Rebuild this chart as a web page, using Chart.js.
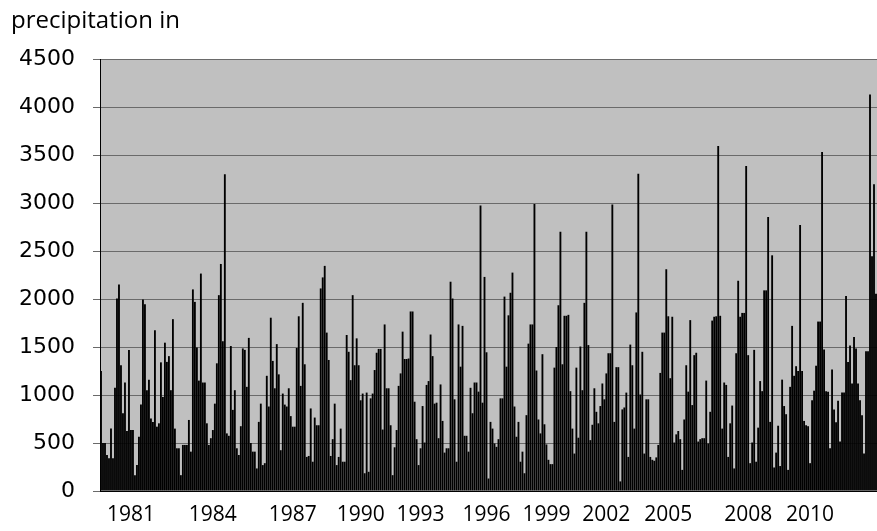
<!DOCTYPE html>
<html>
<head>
<meta charset="utf-8">
<script src="https://cdn.jsdelivr.net/npm/chart.js@4/dist/chart.umd.min.js"></script>
<style>
  html, body { margin: 0; padding: 0; background: #fff; }
  #wrap { width: 877px; height: 531px; }
</style>
</head>
<body>
<div id="wrap"><canvas id="chart" width="877" height="531"></canvas></div>
<script>
// Precipitation values left to right, in five blocks
const values1 = [
  1250, 500, 500, 375, 340, 650, 340, 1075, 2005, 2150,
  1310, 810, 1130, 625, 1470, 635, 635, 165, 270, 565,
  900, 1995, 1945, 1050, 1160, 755, 720, 1675, 670, 705,
  1340, 980, 1545, 1345, 1405, 1050, 1790, 650, 445, 445,
  165, 480, 480, 480, 740, 410, 2100, 1970, 1495, 1150,
  2265, 1130, 1130, 705, 480, 550, 635, 910, 1330, 2040,
  2365, 1560, 3300, 600, 575, 1510, 845, 1050, 445, 375,
  675, 1485, 1470, 1085, 1595, 500, 410, 410
];
const values2 = [
  235, 720, 910, 270, 290, 1200, 880, 1805, 1355, 1070,
  1530, 1215, 425, 1015, 900, 880, 1070, 780, 670, 670,
  1490, 1820, 1095, 1960, 1320, 355, 365, 860, 305, 765,
  685, 685, 2110, 2225, 2345, 1650, 1365, 365, 540, 910,
  270, 355, 650, 305, 305, 1625, 1450, 1155, 2040, 1310,
  1590, 1310, 945, 1015, 185, 1025, 200, 965, 1015, 1260,
  1440, 1480, 1480, 640, 1735, 1070, 1070, 685, 165, 455,
  635, 1095, 1225, 1660, 1375, 1375, 1380, 1870
];
const values3 = [
  1870, 930, 540, 270, 445, 885, 505, 1105, 1145, 1630,
  1405, 910, 920, 550, 1110, 730, 400, 445, 445, 2180,
  2005, 955, 305, 1735, 1295, 1720, 575, 575, 410, 1075,
  810, 1130, 1130, 1035, 2975, 920, 2230, 1445, 130, 720,
  650, 495, 460, 540, 965, 965, 2025, 1295, 1830, 2065,
  2275, 880, 565, 720, 305, 410, 185, 790, 1535, 1735,
  1735, 2990, 1255, 745, 600, 1425, 695, 485, 325, 280,
  280, 1285, 1500, 1935, 2700, 1320, 1825, 1825
];
const values4 = [
  1835, 1040, 650, 390, 1285, 555, 1505, 1050, 1960, 2700,
  1520, 530, 690, 1070, 825, 705, 885, 1120, 955, 1225,
  1435, 1435, 2985, 720, 1290, 1290, 100, 850, 870, 1025,
  355, 1525, 1310, 650, 1860, 3305, 1005, 1450, 390, 955,
  955, 355, 325, 315, 350, 480, 1230, 1650, 1650, 2310,
  1820, 1175, 1815, 505, 590, 625, 540, 220, 745, 1310,
  1035, 1780, 895, 1415, 1440, 515, 540, 550, 550, 1150,
  495, 825, 1775, 1815, 1820, 3595, 1825, 650
];
const values5 = [
  1130, 1105, 355, 705, 890, 235, 1435, 2190, 1815, 1855,
  1855, 3385, 1415, 290, 505, 1470, 305, 660, 1145, 1040,
  2090, 2090, 2855, 720, 2455, 245, 400, 680, 260, 1160,
  885, 800, 220, 1085, 1720, 1200, 1300, 1250, 2770, 1250,
  730, 685, 675, 290, 945, 1045, 1305, 1765, 1765, 3530,
  1475, 1040, 1035, 445, 1265, 850, 715, 940, 515, 1025,
  1025, 2030, 1345, 1515, 1120, 1605, 1485, 1120, 945, 790,
  390, 1455, 1455, 4130, 2445, 3195, 2055
];
const precipitation = [...values1, ...values2, ...values3, ...values4, ...values5];

// Year labels and the bar they sit under
const tickYears = ['1981', '1984', '1987', '1990', '1993', '1996', '1999', '2002', '2005', '2008', '2010'];
const tickIndex = [15, 56, 96, 130, 160, 193, 223, 253, 284, 324, 355];

const yTicks = [0, 500, 1000, 1500, 2000, 2500, 3000, 3500, 4000, 4500];

const labels = precipitation.map((_, i) => {
  const k = tickIndex.indexOf(i);
  return k >= 0 ? tickYears[k] : '';
});

// Gray plot area
const plotBackground = {
  id: 'plotBackground',
  beforeDraw(chart) {
    const { ctx, chartArea: a } = chart;
    ctx.save();
    ctx.fillStyle = '#c0c0c0';
    ctx.fillRect(a.left, a.top, a.right - a.left, a.bottom - a.top);
    ctx.restore();
  }
};

// Axis title in the top left corner
const axisTitle = {
  id: 'axisTitle',
  afterDraw(chart) {
    const ctx = chart.ctx;
    ctx.save();
    ctx.fillStyle = '#000';
    ctx.font = '24px "Open Sans"';
    ctx.textBaseline = 'alphabetic';
    ctx.fillText('precipitation in', 11, 28);
    ctx.restore();
  }
};

new Chart(document.getElementById('chart'), {
  type: 'bar',
  data: {
    labels,
    datasets: [{
      data: precipitation,
      backgroundColor: '#000',
      borderWidth: 0,
      barPercentage: 0.93,
      categoryPercentage: 1
    }]
  },
  options: {
    responsive: false,
    animation: false,
    layout: { padding: { top: 59, right: 0, left: 0, bottom: 0 } },
    plugins: {
      legend: { display: false },
      tooltip: { enabled: false }
    },
    scales: {
      x: {
        grid: { display: false, drawTicks: false },
        border: { display: true, color: '#000' },
        ticks: {
          autoSkip: false,
          maxRotation: 0,
          minRotation: 0,
          padding: 11,
          color: '#000',
          font: { family: 'Open Sans', size: 21 }
        },
        afterFit: s => { s.height = 40; s.paddingLeft = 0; s.paddingRight = 0; }
      },
      y: {
        min: 0,
        max: 4500,
        afterBuildTicks: s => { s.ticks = yTicks.map(v => ({ value: v })); },
        ticks: {
          padding: 18,
          color: '#000',
          font: { family: 'DejaVu Sans', size: 22 },
          callback: v => String(v)
        },
        grid: { color: '#6a6a6a', lineWidth: 1, tickLength: 7, tickColor: '#6a6a6a' },
        border: { display: true, color: '#000', width: 1 },
        afterFit: s => { s.width = 100; }
      }
    }
  },
  plugins: [plotBackground, axisTitle]
});
</script>
</body>
</html>
